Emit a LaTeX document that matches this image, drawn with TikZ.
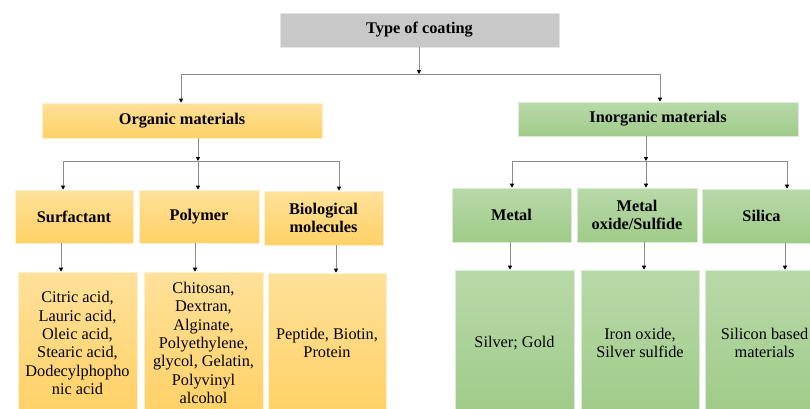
\documentclass[tikz,border=0pt]{standalone}
\usepackage{fontspec}
\setmainfont{Liberation Serif}
\usetikzlibrary{arrows.meta}
\definecolor{orgtop}{HTML}{FFE19A}
\definecolor{orgbot}{HTML}{FFD166}
\definecolor{grntop}{HTML}{B8D9A9}
\definecolor{grnbot}{HTML}{9FCB88}
\definecolor{graybox}{HTML}{C8C8C8}
\definecolor{conn}{HTML}{8C8C8C}
\tikzset{
  base/.style={inner sep=0pt, align=center, font=\fontsize{16.3}{18.3}\selectfont},
  hdr/.style={base, font=\fontsize{16.3}{18.3}\selectfont\bfseries},
  orgbox/.style={top color=orgtop, bottom color=orgbot, draw=orgtop!50!white, line width=0.6pt},
  grnbox/.style={top color=grntop, bottom color=grnbot, draw=grntop!50!white, line width=0.6pt},
  graybx/.style={fill=graybox, draw=graybox!50!white, line width=0.6pt},
  line/.style={draw=conn, line width=0.8pt},
  arr/.style={line, -{Triangle[length=4pt,width=4pt,color=black,fill=black]}},
}
\newcommand{\bx}[6]{% name, style, x1,y1,x2,y2
  \node[#2, minimum width={#5-#3}, minimum height={#6-#4}, inner sep=0pt] (#1) at ({(#3+#5)/2},{(#4+#6)/2}) {};}
\begin{document}
\begin{tikzpicture}[x=1pt,y=-1pt]
\useasboundingbox (0,0) rectangle (810,408);
\clip (0,0) rectangle (810,408);
% boxes
\bx{top}{graybx}{280}{13}{559}{47}
\bx{org}{orgbox}{42}{103}{322}{138}
\bx{inorg}{grnbox}{518}{102}{798}{136}
\bx{surf}{orgbox}{15}{190}{133}{243}
\bx{poly}{orgbox}{139}{190}{259}{243}
\bx{bio}{orgbox}{264}{191}{383}{245}
\bx{metal}{grnbox}{452}{188}{571}{242}
\bx{oxide}{grnbox}{577}{188}{697}{242}
\bx{silica}{grnbox}{702}{189}{821}{243}
\bx{surfL}{orgbox}{18}{272}{137}{414}
\bx{polyL}{orgbox}{144}{272}{263}{414}
\bx{bioL}{orgbox}{268}{273}{386}{414}
\bx{metalL}{grnbox}{455}{270}{574}{414}
\bx{oxideL}{grnbox}{581}{270}{699}{414}
\bx{silicaL}{grnbox}{705}{270}{824}{414}
% texts
\node[hdr] at (top) {Type of coating};
\node[hdr] at (org) {Organic materials};
\node[hdr] at (inorg) {Inorganic materials};
\node[hdr] at (surf) {Surfactant};
\node[hdr] at (poly) {Polymer};
\node[hdr] at (bio) {Biological\\molecules};
\node[hdr] at (metal) {Metal};
\node[hdr] at (oxide) {Metal\\oxide/Sulfide};
\node[hdr] at (silica) {Silica};
\node[base] at (77.5,343) {Citric acid,\\Lauric acid,\\Oleic acid,\\Stearic acid,\\Dodecylphopho\\nic acid};
\node[base] at (203.5,343) {Chitosan,\\Dextran,\\Alginate,\\Polyethylene,\\glycol, Gelatin,\\Polyvinyl\\alcohol};
\node[base] at (327,343) {Peptide, Biotin,\\Protein};
\node[base] at (514.5,343) {Silver; Gold};
\node[base] at (640,343) {Iron oxide,\\Silver sulfide};
\node[base] at (764.5,343) {Silicon based\\materials};
% connectors
\coordinate (tbus) at (419,74);
\coordinate (tl) at (181,74);
\coordinate (tr) at (660,74);
\draw[arr] (top.south -| tbus) -- (tbus);
\draw[line] (tl) -- (tr);
\draw[arr] (tl) -- (tl |- org.north);
\draw[arr] (tr) -- (tr |- inorg.north);
% organic bus
\coordinate (ob) at (198,161);
\coordinate (ob1) at (63,161);
\coordinate (ob3) at (339,161);
\draw[arr] (org.south -| ob) -- (ob);
\draw[line] (ob1) -- (ob3);
\draw[arr] (ob1) -- (ob1 |- surf.north);
\draw[arr] (ob) -- (ob |- poly.north);
\draw[arr] (ob3) -- (ob3 |- bio.north);
% inorganic bus
\coordinate (ib) at (646,161);
\coordinate (ib1) at (512,161);
\coordinate (ib3) at (787,161);
\draw[arr] (inorg.south -| ib) -- (ib);
\draw[line] (ib1) -- (ib3);
\draw[arr] (ib1) -- (ib1 |- metal.north);
\draw[arr] (ib) -- (ib |- oxide.north);
\draw[arr] (ib3) -- (ib3 |- silica.north);
% level 2 to 3
\coordinate (s1) at (61,243);
\coordinate (s2) at (195,243);
\coordinate (s3) at (336,245);
\coordinate (s4) at (510,242);
\coordinate (s5) at (644,242);
\coordinate (s6) at (785,243);
\draw[arr] (s1) -- (s1 |- surfL.north);
\draw[arr] (s2) -- (s2 |- polyL.north);
\draw[arr] (s3) -- (s3 |- bioL.north);
\draw[arr] (s4) -- (s4 |- metalL.north);
\draw[arr] (s5) -- (s5 |- oxideL.north);
\draw[arr] (s6) -- (s6 |- silicaL.north);
\end{tikzpicture}
\end{document}
